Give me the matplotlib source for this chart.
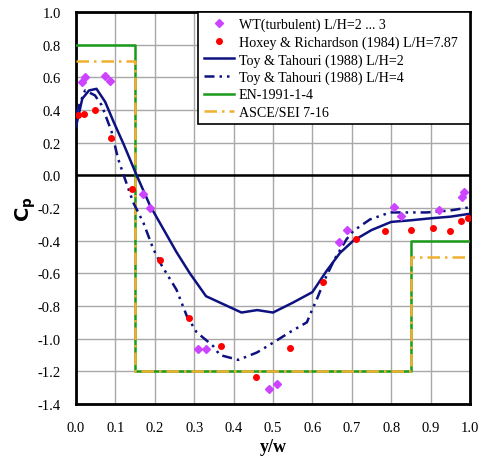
import matplotlib.pyplot as plt

plt.rcParams["font.family"] = ["Liberation Serif", "DejaVu Serif"]

# wind tunnel, turbulent flow
wt_x = [0.015, 0.022, 0.074, 0.085, 0.171, 0.188, 0.31, 0.33, 0.49, 0.509,
        0.668, 0.689, 0.808, 0.824, 0.922, 0.979, 0.985]
wt_cp = [0.57, 0.60, 0.61, 0.58, -0.115, -0.20, -1.065, -1.065, -1.31, -1.275,
         -0.41, -0.335, -0.192, -0.247, -0.212, -0.135, -0.10]

# Hoxey & Richardson (1984)
hox_x = [0.006, 0.02, 0.047, 0.089, 0.143, 0.213, 0.288, 0.368, 0.456, 0.543,
         0.628, 0.711, 0.785, 0.85, 0.907, 0.95, 0.978, 0.994]
hox_cp = [0.37, 0.373, 0.40, 0.23, -0.085, -0.52, -0.875, -1.047, -1.237, -1.056,
          -0.655, -0.39, -0.342, -0.332, -0.323, -0.342, -0.28, -0.263]

# Toy & Tahouri (1988) L/H=2
toy2_x = [0.0, 0.016, 0.033, 0.052, 0.074, 0.095, 0.121, 0.154, 0.188, 0.222,
          0.255, 0.289, 0.33, 0.42, 0.46, 0.50, 0.55, 0.60, 0.636, 0.67, 0.704,
          0.75, 0.80, 0.85, 0.90, 0.95, 1.0]
toy2_cp = [0.30, 0.47, 0.52, 0.53, 0.45, 0.33, 0.19, 0.0, -0.186, -0.33,
           -0.47, -0.60, -0.74, -0.84, -0.825, -0.84, -0.78, -0.715, -0.585,
           -0.475, -0.40, -0.335, -0.285, -0.275, -0.263, -0.253, -0.235]

# Toy & Tahouri (1988) L/H=4
toy4_x = [0.0, 0.023, 0.048, 0.065, 0.09, 0.107, 0.124, 0.145, 0.171, 0.196,
          0.217, 0.255, 0.281, 0.306, 0.348, 0.365, 0.412, 0.459, 0.50, 0.543,
          0.586, 0.598, 0.611, 0.632, 0.657, 0.687, 0.704, 0.746, 0.797, 0.84,
          0.89, 0.95, 1.0]
toy4_cp = [0.38, 0.52, 0.49, 0.43, 0.27, 0.10, -0.02, -0.165, -0.29, -0.45,
           -0.55, -0.70, -0.86, -0.96, -1.045, -1.10, -1.13, -1.085, -1.025,
           -0.96, -0.90, -0.83, -0.76, -0.635, -0.51, -0.39, -0.34, -0.27,
           -0.227, -0.227, -0.227, -0.215, -0.195]

# code values
code_x = [0.0, 0.15, 0.15, 0.85, 0.85, 1.0]
en_cp = [0.8, 0.8, -1.2, -1.2, -0.4, -0.4]
asce_cp = [0.7, 0.7, -1.2, -1.2, -0.5, -0.5]

NAVY = "#0d1280"

fig = plt.figure(figsize=(4.79, 4.60), dpi=100)
ax = fig.add_axes([0.1587, 0.1196, 0.8225, 0.852])

ax.plot(code_x, en_cp, color="#1a9a1a", lw=1.8, label="EN-1991-1-4", zorder=3)
ax.plot(code_x, asce_cp, color="#f0b030", lw=1.8, linestyle=(0, (5, 2, 1, 2)),
        label="ASCE/SEI 7-16", zorder=3.1)
ax.plot(toy2_x, toy2_cp, color=NAVY, lw=1.8,
        label="Toy & Tahouri (1988) L/H=2", zorder=4)
ax.plot(toy4_x, toy4_cp, color=NAVY, lw=1.8, linestyle=(0, (4, 2, 1, 2, 1, 2)),
        label="Toy & Tahouri (1988) L/H=4", zorder=4)
ax.plot(wt_x, wt_cp, "D", color="#cc44ff", ms=4.5, mec="#cc44ff",
        label="WT(turbulent) L/H=2 ... 3", zorder=5)
# trailing spaces only widen the legend's right margin
ax.plot(hox_x, hox_cp, "o", color="red", ms=4, mec="red",
        label="Hoxey & Richardson (1984) L/H=7.87  ", zorder=5)

ax.axhline(0, color="black", lw=1.8, zorder=2)

ax.set_xlim(0, 1)
ax.set_ylim(-1.4, 1.0)
ax.set_xticks([i / 10 for i in range(11)])
ax.set_yticks([-1.4 + 0.2 * i for i in range(13)])
ax.xaxis.set_major_formatter(plt.FormatStrFormatter("%.1f"))
ax.yaxis.set_major_formatter(plt.FormatStrFormatter("%.1f"))
ax.tick_params(labelsize=10.5, length=0)
ax.tick_params(axis="y", pad=11)
ax.tick_params(axis="x", pad=12)
ax.grid(True, color="#a8a8a8", lw=1)
ax.set_axisbelow(True)
for sp in ax.spines.values():
    sp.set_linewidth(2)

ax.set_xlabel("y/w", fontsize=13, fontweight="bold", labelpad=3)
ax.set_ylabel(r"$\mathbf{C_p}$", fontsize=14, labelpad=0)

h, l = ax.get_legend_handles_labels()
order = [4, 5, 2, 3, 0, 1]
leg = ax.legend([h[i] for i in order], [l[i] for i in order], loc="upper right",
                fontsize=10.1, frameon=True, fancybox=False, framealpha=1,
                edgecolor="black", borderaxespad=0, labelspacing=0.3,
                handlelength=2.2, handletextpad=0.3, borderpad=0.4)
leg.get_frame().set_linewidth(1.2)

fig.savefig("out.png", dpi=100)
